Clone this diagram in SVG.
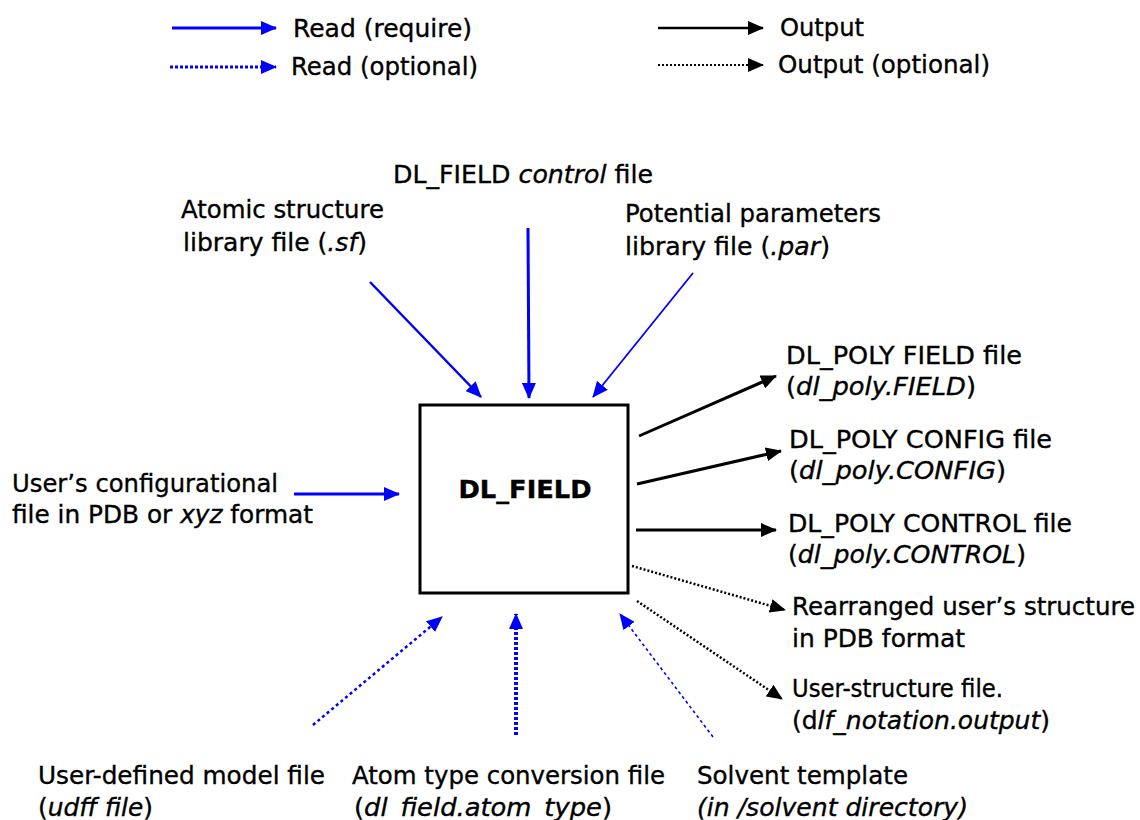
<svg xmlns="http://www.w3.org/2000/svg" width="1140" height="820" viewBox="0 0 1140 820">
<style>
text{font-family:"DejaVu Sans","Liberation Sans",sans-serif;font-size:24px;fill:#000;stroke:#000;stroke-width:0.35}
.it{font-style:italic}
.b{stroke:#0000ff;fill:none}
.k{stroke:#000;fill:none}
.box{fill:#fff;stroke:#000;stroke-width:3}
</style>
<defs>
<marker id="ab" markerUnits="userSpaceOnUse" markerWidth="16" markerHeight="14" refX="15" refY="7" orient="auto"><path d="M0,0 L16,7 L0,14 z" fill="#0000ff"/></marker>
<marker id="ak" markerUnits="userSpaceOnUse" markerWidth="16" markerHeight="14" refX="15" refY="7" orient="auto"><path d="M0,0 L16,7 L0,14 z" fill="#000"/></marker>
</defs>
<rect width="1140" height="820" fill="#fff"/>
<g id="legend">
<line class="b" x1="172" y1="28" x2="276" y2="28" stroke-width="3" marker-end="url(#ab)"/>
<text x="293" y="37" textLength="179" lengthAdjust="spacingAndGlyphs">Read (require)</text>
<line class="b" x1="170" y1="67" x2="276" y2="67" stroke-width="3" stroke-dasharray="3,2" marker-end="url(#ab)"/>
<text x="291" y="75" textLength="187" lengthAdjust="spacingAndGlyphs">Read (optional)</text>
<line class="k" x1="658" y1="28" x2="763" y2="28" stroke-width="2.5" marker-end="url(#ak)"/>
<text x="780" y="36" textLength="84" lengthAdjust="spacingAndGlyphs">Output</text>
<line class="k" x1="658" y1="65" x2="763" y2="65" stroke-width="2" stroke-dasharray="2,2" marker-end="url(#ak)"/>
<text x="778" y="73" textLength="212" lengthAdjust="spacingAndGlyphs">Output (optional)</text>
</g>
<g id="dlfield">
<rect class="box" x="420" y="405" width="208" height="188"/>
<text x="525" y="498" text-anchor="middle" font-weight="bold" font-size="25" textLength="133" lengthAdjust="spacingAndGlyphs">DL_FIELD</text>
</g>
<g id="control">
<text x="393" y="183" textLength="260" lengthAdjust="spacingAndGlyphs">DL_FIELD <tspan class="it">control</tspan> file</text>
</g>
<g id="sf">
<text x="181" y="218" textLength="203" lengthAdjust="spacingAndGlyphs">Atomic structure</text>
<text x="183" y="251" textLength="184" lengthAdjust="spacingAndGlyphs">library file (<tspan class="it">.sf</tspan>)</text>
</g>
<g id="par">
<text x="625" y="222" textLength="256" lengthAdjust="spacingAndGlyphs">Potential parameters</text>
<text x="625" y="255" textLength="205" lengthAdjust="spacingAndGlyphs">library file (<tspan class="it">.par</tspan>)</text>
</g>
<g id="pdbin">
<text x="12" y="492" textLength="266" lengthAdjust="spacingAndGlyphs">User’s configurational</text>
<text x="12" y="523" textLength="301" lengthAdjust="spacingAndGlyphs">file in PDB or <tspan class="it">xyz</tspan> format</text>
</g>
<g id="field">
<text x="786" y="364" textLength="236" lengthAdjust="spacingAndGlyphs">DL_POLY FIELD file</text>
<text x="786" y="395" textLength="190" lengthAdjust="spacingAndGlyphs">(<tspan class="it">dl_poly.FIELD</tspan>)</text>
</g>
<g id="config">
<text x="789" y="448" textLength="263" lengthAdjust="spacingAndGlyphs">DL_POLY CONFIG file</text>
<text x="789" y="479" textLength="217" lengthAdjust="spacingAndGlyphs">(<tspan class="it">dl_poly.CONFIG</tspan>)</text>
</g>
<g id="controlout">
<text x="788" y="532" textLength="284" lengthAdjust="spacingAndGlyphs">DL_POLY CONTROL file</text>
<text x="788" y="563" textLength="238" lengthAdjust="spacingAndGlyphs">(<tspan class="it">dl_poly.CONTROL</tspan>)</text>
</g>
<g id="rearranged">
<text x="792" y="615" textLength="343" lengthAdjust="spacingAndGlyphs">Rearranged user’s structure</text>
<text x="792" y="647" textLength="173" lengthAdjust="spacingAndGlyphs">in PDB format</text>
</g>
<g id="notation">
<text x="792" y="697" textLength="211" lengthAdjust="spacingAndGlyphs">User-structure file.</text>
<text x="792" y="729" textLength="258" lengthAdjust="spacingAndGlyphs">(d<tspan class="it">lf_notation.output</tspan>)</text>
</g>
<g id="udff">
<text x="38" y="784" textLength="287" lengthAdjust="spacingAndGlyphs">User-defined model file</text>
<text x="38" y="816" textLength="115" lengthAdjust="spacingAndGlyphs">(<tspan class="it">udff file</tspan>)</text>
</g>
<g id="atomtype">
<text x="352" y="784" textLength="313" lengthAdjust="spacingAndGlyphs">Atom type conversion file</text>
<text x="354" y="816" textLength="258" lengthAdjust="spacingAndGlyphs">(<tspan class="it">dl_field.atom_type</tspan>)</text>
</g>
<g id="solvent">
<text x="697" y="784" textLength="211" lengthAdjust="spacingAndGlyphs">Solvent template</text>
<text x="697" y="816" class="it" textLength="271" lengthAdjust="spacingAndGlyphs">(in /solvent directory)</text>
</g>
<g id="connectors">
<line class="b" x1="370" y1="282" x2="481" y2="397" stroke-width="2.5" marker-end="url(#ab)"/>
<line class="b" x1="528" y1="228" x2="529" y2="398" stroke-width="3" marker-end="url(#ab)"/>
<line class="b" x1="693" y1="273" x2="593" y2="397" stroke-width="1.8" marker-end="url(#ab)"/>
<line class="b" x1="294" y1="494" x2="399" y2="494" stroke-width="3" marker-end="url(#ab)"/>
<line class="k" x1="639" y1="436" x2="776" y2="376" stroke-width="3" marker-end="url(#ak)"/>
<line class="k" x1="637" y1="484" x2="781" y2="451" stroke-width="3" marker-end="url(#ak)"/>
<line class="k" x1="636" y1="530" x2="776" y2="530" stroke-width="3" marker-end="url(#ak)"/>
<line class="k" x1="632" y1="566" x2="785" y2="610" stroke-width="2.5" stroke-dasharray="2,2" marker-end="url(#ak)"/>
<line class="k" x1="637" y1="601" x2="782" y2="699" stroke-width="2.5" stroke-dasharray="2,2" marker-end="url(#ak)"/>
<line class="b" x1="313" y1="725" x2="442" y2="617" stroke-width="2.5" stroke-dasharray="3,3" marker-end="url(#ab)"/>
<line class="b" x1="516" y1="735" x2="516" y2="614" stroke-width="4" stroke-dasharray="3,2" marker-end="url(#ab)"/>
<line class="b" x1="713" y1="737" x2="620" y2="614" stroke-width="1.6" stroke-dasharray="3,3" marker-end="url(#ab)"/>
</g>
</svg>
